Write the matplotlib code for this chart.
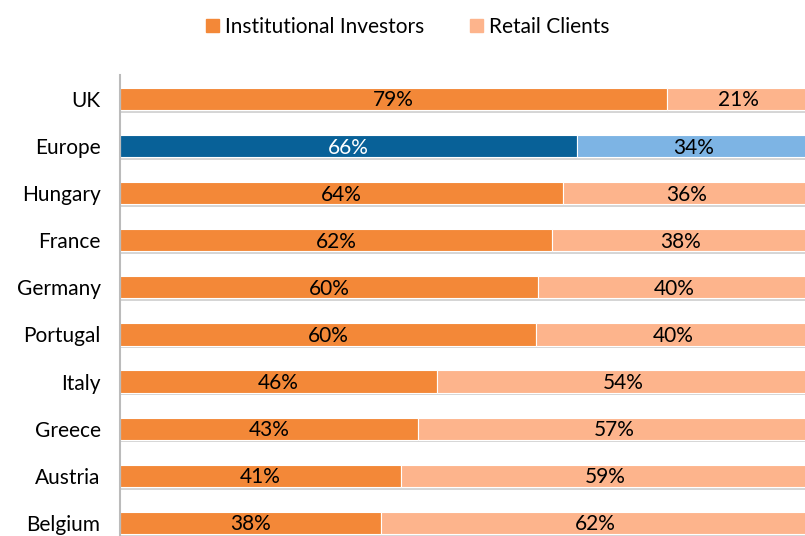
import matplotlib.pyplot as plt
import matplotlib.patheffects as pe
from matplotlib.patches import Patch
import numpy as np

countries = ["UK", "Europe", "Hungary", "France", "Germany", "Portugal",
             "Italy", "Greece", "Austria", "Belgium"]
institutional = [79.3, 66.2, 64.2, 62.6, 60.6, 60.3, 45.9, 43.2, 40.7, 37.8]
inst_labels = ["79%", "66%", "64%", "62%", "60%", "60%", "46%", "43%", "41%", "38%"]
retail_labels = ["21%", "34%", "36%", "38%", "40%", "40%", "54%", "57%", "59%", "62%"]
retail = [100 - v for v in institutional]

orange = "#F38838"
light_orange = "#FDB48C"
dark_blue = "#086198"
light_blue = "#7DB4E4"

plt.rcParams['font.family'] = ['Lato', 'DejaVu Sans']

fig = plt.figure(figsize=(8.05, 5.36), dpi=100)
ax = fig.add_axes([120 / 805, 0, 690 / 805, 461 / 536])

y = np.arange(len(countries))
c1 = [dark_blue if c == "Europe" else orange for c in countries]
c2 = [light_blue if c == "Europe" else light_orange for c in countries]

shadow = [pe.SimplePatchShadow(offset=(0, -2), shadow_rgbFace="#888888", alpha=0.35), pe.Normal()]
b1 = ax.barh(y, institutional, height=0.47, color=c1, edgecolor="white", linewidth=0.8,
             label="Institutional Investors")
b2 = ax.barh(y, retail, left=institutional, height=0.47, color=c2, edgecolor="white",
             linewidth=0.8, label="Retail Clients")
for bar in list(b1) + list(b2):
    bar.set_path_effects(shadow)

for i, c in enumerate(countries):
    tc = "white" if c == "Europe" else "black"
    ax.text(institutional[i] / 2, i + 0.03, inst_labels[i], ha="center", va="center",
            fontsize=15, color=tc)
    ax.text(institutional[i] + retail[i] / 2, i + 0.03, retail_labels[i], ha="center",
            va="center", fontsize=15, color="black")

ax.set_xlim(0, 100)
ax.set_ylim(9.28, -0.51)
ax.set_yticks(y)
ax.set_yticklabels(countries, fontsize=15)
ax.tick_params(axis="y", length=0, pad=14)
ax.set_xticks([])
for s in ["top", "right", "bottom"]:
    ax.spines[s].set_visible(False)
ax.spines["left"].set_color("#BBBBBB")
ax.spines["left"].set_linewidth(1.5)

handles = [Patch(color=orange), Patch(color=light_orange)]
fig.legend(handles, ["Institutional Investors", "Retail Clients"], loc="center",
           bbox_to_anchor=(408 / 805, 1 - 27 / 536), ncol=2, frameon=False,
           fontsize=15, handlelength=0.6, handleheight=0.6, handletextpad=0.3,
           columnspacing=2.2)

fig.savefig("out.png", dpi=100)
